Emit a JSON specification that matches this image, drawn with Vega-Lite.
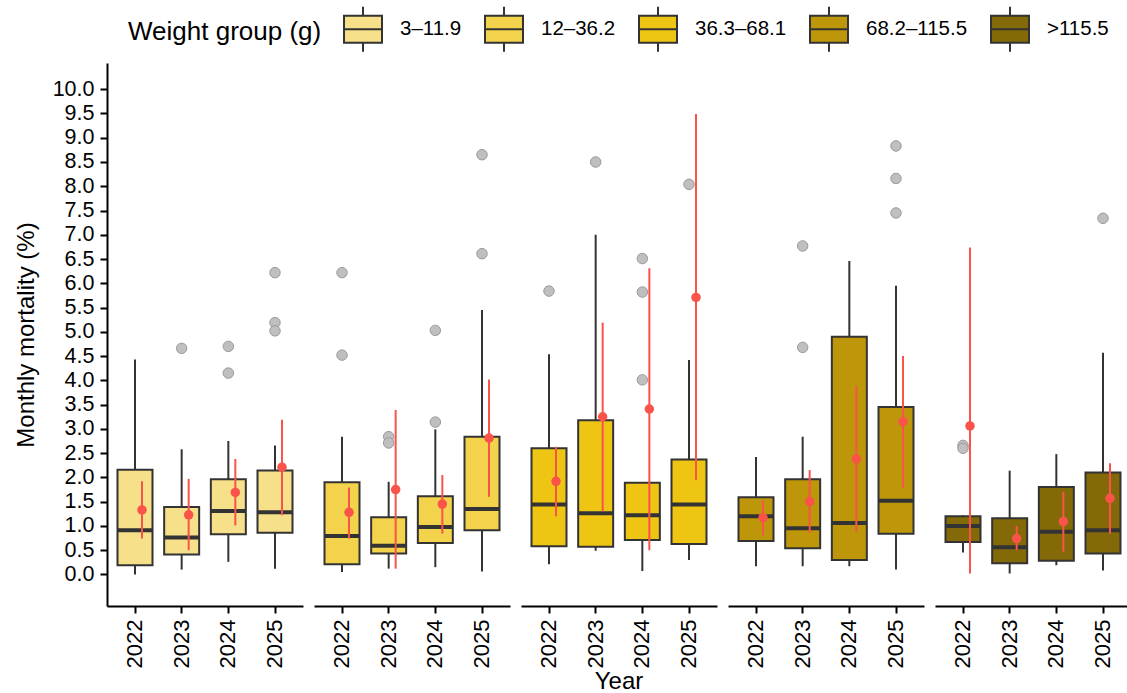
{
  "$schema": "https://vega.github.io/schema/vega-lite/v6.json",
  "padding": {"left": 14, "top": 9, "right": 0, "bottom": 0},
  "background": "white",
  "title": {"text": "Year", "orient": "bottom", "anchor": "middle", "frame": "group", "dx": 512, "fontSize": 24, "fontWeight": "normal", "font": "Liberation Sans", "color": "#000000", "offset": 2},
  "data": {"values": [
    {"kind": "box", "g": "3–11.9", "year": "2022", "lo": 0.0, "q1": 0.19, "med": 0.91, "q3": 2.16, "hi": 4.43, "mean": 1.33, "elo": 0.74, "ehi": 1.92},
    {"kind": "box", "g": "3–11.9", "year": "2023", "lo": 0.10, "q1": 0.41, "med": 0.76, "q3": 1.39, "hi": 2.58, "mean": 1.23, "elo": 0.50, "ehi": 1.97},
    {"kind": "box", "g": "3–11.9", "year": "2024", "lo": 0.26, "q1": 0.83, "med": 1.31, "q3": 1.96, "hi": 2.75, "mean": 1.69, "elo": 1.01, "ehi": 2.38},
    {"kind": "box", "g": "3–11.9", "year": "2025", "lo": 0.12, "q1": 0.86, "med": 1.28, "q3": 2.14, "hi": 2.66, "mean": 2.21, "elo": 1.22, "ehi": 3.19},
    {"kind": "box", "g": "12–36.2", "year": "2022", "lo": 0.05, "q1": 0.21, "med": 0.79, "q3": 1.90, "hi": 2.84, "mean": 1.28, "elo": 0.74, "ehi": 1.79},
    {"kind": "box", "g": "12–36.2", "year": "2023", "lo": 0.12, "q1": 0.43, "med": 0.59, "q3": 1.18, "hi": 1.91, "mean": 1.75, "elo": 0.12, "ehi": 3.39},
    {"kind": "box", "g": "12–36.2", "year": "2024", "lo": 0.15, "q1": 0.65, "med": 0.98, "q3": 1.61, "hi": 2.99, "mean": 1.45, "elo": 0.84, "ehi": 2.05},
    {"kind": "box", "g": "12–36.2", "year": "2025", "lo": 0.06, "q1": 0.91, "med": 1.35, "q3": 2.84, "hi": 5.45, "mean": 2.81, "elo": 1.60, "ehi": 4.02},
    {"kind": "box", "g": "36.3–68.1", "year": "2022", "lo": 0.21, "q1": 0.58, "med": 1.44, "q3": 2.60, "hi": 4.54, "mean": 1.92, "elo": 1.20, "ehi": 2.63},
    {"kind": "box", "g": "36.3–68.1", "year": "2023", "lo": 0.49, "q1": 0.57, "med": 1.26, "q3": 3.18, "hi": 7.00, "mean": 3.25, "elo": 1.30, "ehi": 5.19},
    {"kind": "box", "g": "36.3–68.1", "year": "2024", "lo": 0.07, "q1": 0.71, "med": 1.22, "q3": 1.89, "hi": 1.90, "mean": 3.41, "elo": 0.50, "ehi": 6.31},
    {"kind": "box", "g": "36.3–68.1", "year": "2025", "lo": 0.30, "q1": 0.63, "med": 1.44, "q3": 2.37, "hi": 4.42, "mean": 5.71, "elo": 1.94, "ehi": 9.49},
    {"kind": "box", "g": "68.2–115.5", "year": "2022", "lo": 0.17, "q1": 0.69, "med": 1.20, "q3": 1.59, "hi": 2.42, "mean": 1.17, "elo": 0.81, "ehi": 1.53},
    {"kind": "box", "g": "68.2–115.5", "year": "2023", "lo": 0.17, "q1": 0.54, "med": 0.95, "q3": 1.96, "hi": 2.84, "mean": 1.50, "elo": 0.86, "ehi": 2.15},
    {"kind": "box", "g": "68.2–115.5", "year": "2024", "lo": 0.17, "q1": 0.30, "med": 1.06, "q3": 4.90, "hi": 6.46, "mean": 2.38, "elo": 0.88, "ehi": 3.88},
    {"kind": "box", "g": "68.2–115.5", "year": "2025", "lo": 0.10, "q1": 0.84, "med": 1.52, "q3": 3.45, "hi": 5.95, "mean": 3.15, "elo": 1.78, "ehi": 4.50},
    {"kind": "box", "g": ">115.5", "year": "2022", "lo": 0.45, "q1": 0.67, "med": 1.00, "q3": 1.20, "hi": 1.22, "mean": 3.06, "elo": 0.02, "ehi": 6.74},
    {"kind": "box", "g": ">115.5", "year": "2023", "lo": 0.02, "q1": 0.23, "med": 0.56, "q3": 1.16, "hi": 2.14, "mean": 0.74, "elo": 0.50, "ehi": 1.00},
    {"kind": "box", "g": ">115.5", "year": "2024", "lo": 0.19, "q1": 0.28, "med": 0.88, "q3": 1.80, "hi": 2.48, "mean": 1.09, "elo": 0.47, "ehi": 1.70},
    {"kind": "box", "g": ">115.5", "year": "2025", "lo": 0.08, "q1": 0.43, "med": 0.91, "q3": 2.10, "hi": 4.57, "mean": 1.57, "elo": 0.84, "ehi": 2.29},
    {"kind": "out", "g": "3–11.9", "year": "2023", "out": 4.66},
    {"kind": "out", "g": "3–11.9", "year": "2024", "out": 4.70},
    {"kind": "out", "g": "3–11.9", "year": "2024", "out": 4.15},
    {"kind": "out", "g": "3–11.9", "year": "2025", "out": 6.22},
    {"kind": "out", "g": "3–11.9", "year": "2025", "out": 5.19},
    {"kind": "out", "g": "3–11.9", "year": "2025", "out": 5.02},
    {"kind": "out", "g": "12–36.2", "year": "2022", "out": 6.22},
    {"kind": "out", "g": "12–36.2", "year": "2022", "out": 4.52},
    {"kind": "out", "g": "12–36.2", "year": "2023", "out": 2.84},
    {"kind": "out", "g": "12–36.2", "year": "2023", "out": 2.71},
    {"kind": "out", "g": "12–36.2", "year": "2024", "out": 5.03},
    {"kind": "out", "g": "12–36.2", "year": "2024", "out": 3.14},
    {"kind": "out", "g": "12–36.2", "year": "2025", "out": 8.65},
    {"kind": "out", "g": "12–36.2", "year": "2025", "out": 6.61},
    {"kind": "out", "g": "36.3–68.1", "year": "2022", "out": 5.84},
    {"kind": "out", "g": "36.3–68.1", "year": "2023", "out": 8.50},
    {"kind": "out", "g": "36.3–68.1", "year": "2024", "out": 4.01},
    {"kind": "out", "g": "36.3–68.1", "year": "2024", "out": 5.82},
    {"kind": "out", "g": "36.3–68.1", "year": "2024", "out": 6.51},
    {"kind": "out", "g": "36.3–68.1", "year": "2025", "out": 8.04},
    {"kind": "out", "g": "68.2–115.5", "year": "2023", "out": 6.77},
    {"kind": "out", "g": "68.2–115.5", "year": "2023", "out": 4.68},
    {"kind": "out", "g": "68.2–115.5", "year": "2025", "out": 8.83},
    {"kind": "out", "g": "68.2–115.5", "year": "2025", "out": 8.16},
    {"kind": "out", "g": "68.2–115.5", "year": "2025", "out": 7.45},
    {"kind": "out", "g": ">115.5", "year": "2022", "out": 2.66},
    {"kind": "out", "g": ">115.5", "year": "2022", "out": 2.60},
    {"kind": "out", "g": ">115.5", "year": "2025", "out": 7.34}
  ]},
  "facet": {
    "column": {
      "field": "g", "type": "nominal",
      "sort": ["3–11.9", "12–36.2", "36.3–68.1", "68.2–115.5", ">115.5"],
      "header": {"title": null, "labels": false}
    }
  },
  "spacing": 11,
  "spec": {
    "width": 196,
    "height": 543,
    "encoding": {
      "x": {
        "field": "year", "type": "ordinal",
        "scale": {"paddingInner": 0, "paddingOuter": 0.1},
        "axis": {"title": null, "labelAngle": 270, "labelAlign": "right", "labelBaseline": "middle"}
      }
    },
    "layer": [
      {
        "transform": [{"filter": "datum.kind == 'box'"}],
        "mark": {"type": "rule", "color": "#333333", "strokeWidth": 2},
        "encoding": {
          "y": {"field": "lo", "type": "quantitative", "title": "Monthly mortality (%)",
                "scale": {"domain": [-0.65, 10.54], "nice": false, "zero": false},
                "axis": {"values": [0, 0.5, 1, 1.5, 2, 2.5, 3, 3.5, 4, 4.5, 5, 5.5, 6, 6.5, 7, 7.5, 8, 8.5, 9, 9.5, 10], "format": ".1f", "labelOverlap": false, "labelSeparation": -12, "labelFontSize": 21.5, "titlePadding": 14}},
          "y2": {"field": "hi"}
        }
      },
      {
        "transform": [{"filter": "datum.kind == 'box'"}],
        "mark": {"type": "bar", "width": {"band": 0.75}, "stroke": "#333333", "strokeWidth": 2, "opacity": 1},
        "encoding": {
          "y": {"field": "q1", "type": "quantitative", "title": "Monthly mortality (%)",
                "axis": {"values": [0, 0.5, 1, 1.5, 2, 2.5, 3, 3.5, 4, 4.5, 5, 5.5, 6, 6.5, 7, 7.5, 8, 8.5, 9, 9.5, 10], "format": ".1f", "labelOverlap": false, "labelSeparation": -12, "labelFontSize": 21.5, "titlePadding": 14}},
          "y2": {"field": "q3"},
          "fill": {
            "field": "g", "type": "nominal", "title": "Weight group (g)",
            "sort": ["3–11.9", "12–36.2", "36.3–68.1", "68.2–115.5", ">115.5"],
            "scale": {
              "domain": ["3–11.9", "12–36.2", "36.3–68.1", "68.2–115.5", ">115.5"],
              "range": ["#F6E08A", "#F3D34B", "#EFC514", "#BD960A", "#836908"]
            },
            "legend": {"orient": "none", "legendX": 21, "legendY": -54}
          }
        }
      },
      {
        "transform": [{"filter": "datum.kind == 'box'"}],
        "mark": {"type": "tick", "color": "#333333", "thickness": 4, "size": 35, "opacity": 1},
        "encoding": {
          "y": {"field": "med", "type": "quantitative", "title": "Monthly mortality (%)",
                "axis": {"values": [0, 0.5, 1, 1.5, 2, 2.5, 3, 3.5, 4, 4.5, 5, 5.5, 6, 6.5, 7, 7.5, 8, 8.5, 9, 9.5, 10], "format": ".1f", "labelOverlap": false, "labelSeparation": -12, "labelFontSize": 21.5, "titlePadding": 14}}
        }
      },
      {
        "transform": [{"filter": "datum.kind == 'out'"}],
        "mark": {"type": "point", "filled": true, "fill": "#BFBFBF", "stroke": "#9A9A9A", "strokeWidth": 1, "size": 110, "opacity": 1},
        "encoding": {
          "y": {"field": "out", "type": "quantitative", "title": "Monthly mortality (%)",
                "axis": {"values": [0, 0.5, 1, 1.5, 2, 2.5, 3, 3.5, 4, 4.5, 5, 5.5, 6, 6.5, 7, 7.5, 8, 8.5, 9, 9.5, 10], "format": ".1f", "labelOverlap": false, "labelSeparation": -12, "labelFontSize": 21.5, "titlePadding": 14}}
        }
      },
      {
        "transform": [{"filter": "datum.kind == 'box'"}],
        "mark": {"type": "rule", "color": "#F9534A", "strokeWidth": 2, "xOffset": 7},
        "encoding": {
          "y": {"field": "elo", "type": "quantitative", "title": "Monthly mortality (%)",
                "axis": {"values": [0, 0.5, 1, 1.5, 2, 2.5, 3, 3.5, 4, 4.5, 5, 5.5, 6, 6.5, 7, 7.5, 8, 8.5, 9, 9.5, 10], "format": ".1f", "labelOverlap": false, "labelSeparation": -12, "labelFontSize": 21.5, "titlePadding": 14}},
          "y2": {"field": "ehi"}
        }
      },
      {
        "transform": [{"filter": "datum.kind == 'box'"}],
        "mark": {"type": "point", "filled": true, "color": "#F9534A", "size": 90, "opacity": 1, "xOffset": 7},
        "encoding": {
          "y": {"field": "mean", "type": "quantitative", "title": "Monthly mortality (%)",
                "axis": {"values": [0, 0.5, 1, 1.5, 2, 2.5, 3, 3.5, 4, 4.5, 5, 5.5, 6, 6.5, 7, 7.5, 8, 8.5, 9, 9.5, 10], "format": ".1f", "labelOverlap": false, "labelSeparation": -12, "labelFontSize": 21.5, "titlePadding": 14}}
        }
      }
    ]
  },
  "config": {
    "font": "Liberation Sans",
    "view": {"stroke": null},
    "axis": {
      "grid": false,
      "domainColor": "#000000",
      "domainWidth": 2,
      "tickColor": "#000000",
      "tickWidth": 2,
      "tickSize": 7,
      "labelColor": "#000000",
      "labelFont": "Liberation Sans",
      "titleFont": "Liberation Sans",
      "titleFontSize": 24,
      "titleFontWeight": "normal",
      "titleColor": "#000000",
      "labelPadding": 6
    },
    "axisY": {"labelFontSize": 21.5, "labelOverlap": false},
    "axisX": {"labelFontSize": 22, "labelOverlap": false},
    "legend": {
      "direction": "horizontal",
      "titleOrient": "left",
      "titleFontSize": 26,
      "titleFontWeight": "normal",
      "titleColor": "#000000",
      "titleFont": "Liberation Sans",
      "titlePadding": 21,
      "titleLimit": 500,
      "labelLimit": 300,
      "labelFontSize": 20.5,
      "labelColor": "#000000",
      "labelFont": "Liberation Sans",
      "labelOffset": 17,
      "columnPadding": 19,
      "symbolType": "M-1,-0.71H1V0.71H-1Z M-1,0H1 M0,-0.71V-1.18 M0,0.71V1.18",
      "symbolSize": 1444,
      "symbolStrokeColor": "#333333",
      "symbolStrokeWidth": 2,
      "symbolOpacity": 1,
      "padding": 0
    }
  }
}
